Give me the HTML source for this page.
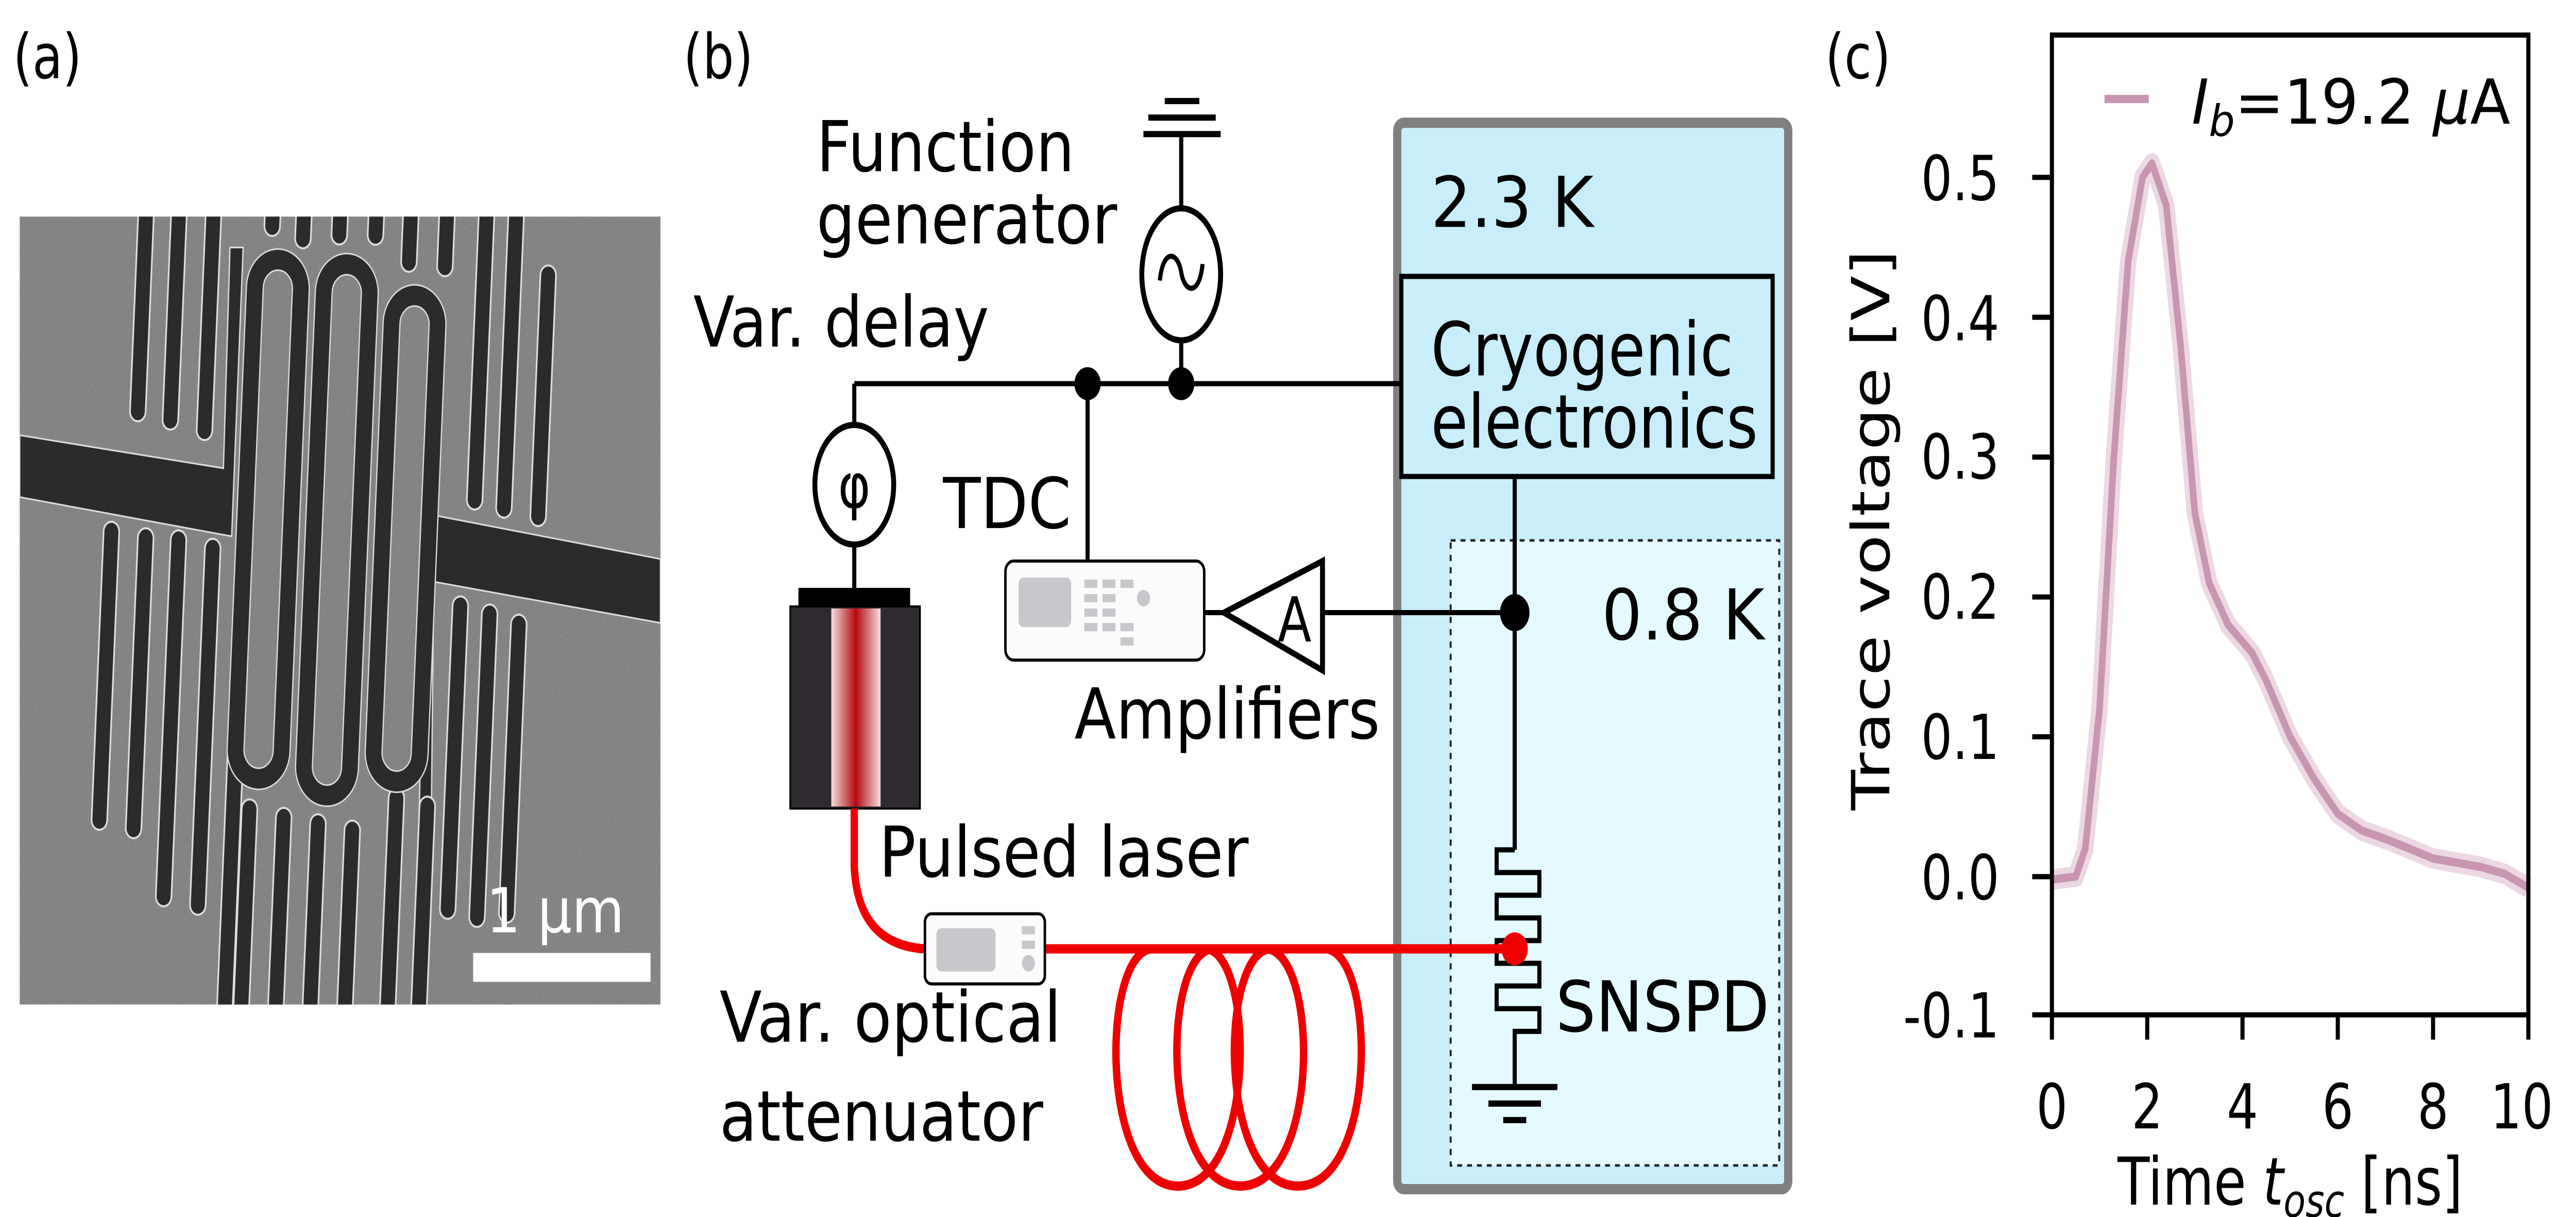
<!DOCTYPE html>
<html><head><meta charset="utf-8"><style>
html,body{margin:0;padding:0;background:#fff;width:100%;height:100%;overflow:hidden;}
svg{display:block;width:100vw;height:100vh;}
text{font-family:"DejaVu Sans","Liberation Sans",sans-serif;fill:#000;}
</style></head><body>
<svg viewBox="0 0 1568 590" preserveAspectRatio="none" xmlns="http://www.w3.org/2000/svg">
<defs>
<clipPath id="sem"><rect x="12" y="105" width="390" height="382"/></clipPath>
<linearGradient id="lg" x1="0" x2="1" y1="0" y2="0">
<stop offset="0" stop-color="#f4dede"/><stop offset="0.5" stop-color="#b30a10"/><stop offset="1" stop-color="#f4dede"/></linearGradient>
<filter id="grain" x="0" y="0" width="1" height="1"><feTurbulence type="fractalNoise" baseFrequency="0.9" numOctaves="2" result="n"/><feColorMatrix type="saturate" values="0"/><feComponentTransfer><feFuncA type="linear" slope="0.35"/></feComponentTransfer><feBlend in="SourceGraphic" mode="multiply"/></filter>
</defs>

<!-- (a) -->
<text x="8" y="38" font-size="30">(a)</text>
<g clip-path="url(#sem)">
<rect x="12" y="105" width="390" height="382" fill="#7c7c7c"/>
<rect x="12" y="105" width="390" height="382" fill="#8a8a8a" filter="url(#grain)"/>
<polygon points="12,211 136,227 140,120 148,120 141,260 12,241" fill="#2b2b2b" stroke="#ddd" stroke-width="0.8"/>
<polygon points="259,249 402,271 402,302 264,282 262,440 254,440" fill="#2b2b2b" stroke="#ddd" stroke-width="0.8"/>
<g transform="rotate(3 206 296)" stroke-linecap="round" fill="none">
<g stroke="#ddd" stroke-width="10.5">
<line x1="79" y1="95" x2="79" y2="206"/><line x1="99" y1="95" x2="99" y2="209"/><line x1="120" y1="95" x2="120" y2="213"/>
<line x1="156" y1="95" x2="156" y2="112"/><line x1="175" y1="95" x2="175" y2="117"/><line x1="197" y1="95" x2="197" y2="114"/><line x1="219" y1="95" x2="219" y2="113"/><line x1="240" y1="95" x2="240" y2="125"/><line x1="262" y1="95" x2="262" y2="126"/>
<line x1="286" y1="95" x2="286" y2="238"/><line x1="304" y1="95" x2="304" y2="241"/><line x1="325" y1="127" x2="325" y2="244"/>
<line x1="66" y1="265" x2="66" y2="405"/><line x1="87" y1="267" x2="87" y2="408"/><line x1="107" y1="267" x2="107" y2="440"/><line x1="128" y1="270" x2="128" y2="443"/><line x1="147" y1="275" x2="147" y2="500"/>
<line x1="157" y1="395" x2="157" y2="500"/><line x1="178" y1="398" x2="178" y2="500"/><line x1="199" y1="400" x2="199" y2="500"/><line x1="220" y1="402" x2="220" y2="500"/><line x1="246" y1="385" x2="246" y2="500"/><line x1="265" y1="388" x2="265" y2="500"/>
<line x1="280" y1="290" x2="280" y2="437"/><line x1="298" y1="293" x2="298" y2="440"/><line x1="316" y1="297" x2="316" y2="437"/>
</g>
<g stroke="#2b2b2b" stroke-width="8.5">
<line x1="79" y1="95" x2="79" y2="206"/><line x1="99" y1="95" x2="99" y2="209"/><line x1="120" y1="95" x2="120" y2="213"/>
<line x1="156" y1="95" x2="156" y2="112"/><line x1="175" y1="95" x2="175" y2="117"/><line x1="197" y1="95" x2="197" y2="114"/><line x1="219" y1="95" x2="219" y2="113"/><line x1="240" y1="95" x2="240" y2="125"/><line x1="262" y1="95" x2="262" y2="126"/>
<line x1="286" y1="95" x2="286" y2="238"/><line x1="304" y1="95" x2="304" y2="241"/><line x1="325" y1="127" x2="325" y2="244"/>
<line x1="66" y1="265" x2="66" y2="405"/><line x1="87" y1="267" x2="87" y2="408"/><line x1="107" y1="267" x2="107" y2="440"/><line x1="128" y1="270" x2="128" y2="443"/><line x1="147" y1="275" x2="147" y2="500"/>
<line x1="157" y1="395" x2="157" y2="500"/><line x1="178" y1="398" x2="178" y2="500"/><line x1="199" y1="400" x2="199" y2="500"/><line x1="220" y1="402" x2="220" y2="500"/><line x1="246" y1="385" x2="246" y2="500"/><line x1="265" y1="388" x2="265" y2="500"/>
<line x1="280" y1="290" x2="280" y2="437"/><line x1="298" y1="293" x2="298" y2="440"/><line x1="316" y1="297" x2="316" y2="437"/>
</g>
<g stroke="#ddd" stroke-width="11"><rect x="147" y="128" width="28" height="252" rx="14"/><rect x="189" y="128" width="28" height="258" rx="14"/><rect x="231" y="141" width="28" height="236" rx="14"/></g>
<g stroke="#2b2b2b" stroke-width="9.5"><rect x="147" y="128" width="28" height="252" rx="14"/><rect x="189" y="128" width="28" height="258" rx="14"/><rect x="231" y="141" width="28" height="236" rx="14"/></g>
</g>
<rect x="288" y="462" width="108" height="14" fill="#fff"/>
<text x="296" y="452" font-size="30" style="fill:#fff" textLength="84" lengthAdjust="spacingAndGlyphs">1 µm</text>
</g>

<!-- (b) -->
<text x="416" y="38" font-size="30">(b)</text>
<rect x="850.5" y="59.5" width="238" height="517" rx="4" fill="#c8eefb" stroke="#808080" stroke-width="5"/>
<rect x="883" y="262" width="200" height="303" fill="#e5fafe" stroke="#222" stroke-width="1.2" stroke-dasharray="3,3"/>
<text x="871" y="110" font-size="34" textLength="99" lengthAdjust="spacingAndGlyphs">2.3 K</text>
<rect x="853" y="134" width="226" height="97" fill="#c8eefb" stroke="#000" stroke-width="2.5"/>
<text x="871" y="182" font-size="36" textLength="184" lengthAdjust="spacingAndGlyphs">Cryogenic</text>
<text x="871" y="217" font-size="36" textLength="199" lengthAdjust="spacingAndGlyphs">electronics</text>
<text x="975" y="310" font-size="34" textLength="99" lengthAdjust="spacingAndGlyphs">0.8 K</text>

<text x="497" y="83" font-size="34" textLength="157" lengthAdjust="spacingAndGlyphs">Function</text>
<text x="497" y="118" font-size="34" textLength="183" lengthAdjust="spacingAndGlyphs">generator</text>
<text x="422" y="168" font-size="34" textLength="180" lengthAdjust="spacingAndGlyphs">Var. delay</text>
<text x="574" y="256" font-size="34" textLength="78" lengthAdjust="spacingAndGlyphs">TDC</text>
<text x="654" y="358" font-size="34" textLength="186" lengthAdjust="spacingAndGlyphs">Amplifiers</text>
<text x="535" y="425" font-size="34" textLength="225" lengthAdjust="spacingAndGlyphs">Pulsed laser</text>
<text x="438" y="505" font-size="34" textLength="208" lengthAdjust="spacingAndGlyphs">Var. optical</text>
<text x="438" y="553" font-size="34" textLength="197" lengthAdjust="spacingAndGlyphs">attenuator</text>
<text x="947" y="500" font-size="34" textLength="130" lengthAdjust="spacingAndGlyphs">SNSPD</text>

<g stroke="#000" stroke-width="2.5" fill="none">
<line x1="709" y1="49" x2="730" y2="49" stroke-width="3"/>
<line x1="699" y1="57" x2="740" y2="57" stroke-width="3"/>
<line x1="696" y1="65" x2="743" y2="65" stroke-width="3"/>
<line x1="719" y1="65" x2="719" y2="100"/>
<ellipse cx="719" cy="133" rx="24" ry="32" stroke-width="3"/>
<path d="M706,136 C708,120 717,122 719,132 C721,142 730,144 732,128" stroke-width="2.5"/>
<line x1="719" y1="165" x2="719" y2="186"/>
<line x1="520" y1="186" x2="853" y2="186"/>
<line x1="520" y1="186" x2="520" y2="206"/>
<ellipse cx="520" cy="235" rx="24" ry="29" stroke-width="3"/>
<line x1="520" y1="264" x2="520" y2="286"/>
<line x1="662" y1="186" x2="662" y2="272"/>
<line x1="922" y1="231" x2="922" y2="412"/>
<line x1="805" y1="297" x2="922" y2="297"/>
<line x1="733" y1="297" x2="745" y2="297"/>
<path d="M805,272 L745,297 L805,325 Z" stroke-width="3"/>
<path d="M922,412 L911,412 L911,423 L937,423 L937,434 L911,434 L911,445 L937,445 L937,456 L911,456 L911,467 L937,467 L937,478 L911,478 L911,489 L937,489 L937,500 L922,500 L922,527"/>
<line x1="896" y1="527" x2="948" y2="527" stroke-width="3"/>
<line x1="906" y1="535" x2="938" y2="535" stroke-width="3"/>
<line x1="915" y1="543" x2="929" y2="543" stroke-width="3"/>
</g>
<text x="788" y="311" font-size="30" text-anchor="middle">A</text>
<text x="520" y="246" font-size="30" text-anchor="middle">φ</text>
<circle cx="662" cy="186" r="8"/><circle cx="719" cy="186" r="8"/><circle cx="922" cy="297" r="9"/>

<rect x="612" y="272" width="121" height="48" rx="5" fill="#fbfbfb" stroke="#000" stroke-width="1.5"/>
<rect x="620" y="280" width="32" height="24" rx="3" fill="#c8c8cc"/>
<g fill="#c8c8cc"><rect x="660" y="281" width="8" height="4"/><rect x="671" y="281" width="8" height="4"/><rect x="682" y="281" width="8" height="4"/>
<rect x="660" y="288" width="8" height="4"/><rect x="671" y="288" width="8" height="4"/><rect x="660" y="295" width="8" height="4"/><rect x="671" y="295" width="8" height="4"/>
<rect x="660" y="302" width="8" height="4"/><rect x="671" y="302" width="8" height="4"/><rect x="682" y="302" width="8" height="4"/><rect x="682" y="309" width="8" height="4"/><circle cx="696" cy="290" r="4"/></g>

<rect x="486" y="285" width="68" height="9" fill="#000"/>
<rect x="481" y="294" width="79" height="98" fill="#2e2a30" stroke="#000" stroke-width="1"/>
<rect x="506" y="295" width="30" height="96" fill="url(#lg)"/>
<g stroke="#ee0000" stroke-width="4.5" fill="none">
<path d="M520,392 L520,420 Q522,458 563,460"/>
<line x1="636" y1="460" x2="922" y2="460"/>
<path d="M700,460 C670,465 670,575 717,575 C764,575 764,465 735,460"/>
<path d="M737,460 C707,465 707,575 755,575 C803,575 803,465 772,460"/>
<path d="M772,460 C742,465 742,575 790,575 C838,575 838,465 808,460"/>
</g>
<circle cx="922" cy="460" r="8" fill="#ee0000"/>
<rect x="563" y="443" width="73" height="34" rx="4" fill="#fbfbfb" stroke="#000" stroke-width="1.5"/>
<rect x="570" y="450" width="36" height="21" rx="3" fill="#c8c8cc"/>
<rect x="622" y="449" width="8" height="4" fill="#c8c8cc"/><rect x="622" y="456" width="8" height="4" fill="#c8c8cc"/><circle cx="626" cy="467" r="4" fill="#c8c8cc"/>

<!-- (c) -->
<text x="1111" y="38" font-size="30">(c)</text>
<g stroke="#000" stroke-width="2.5">
<line x1="1237" y1="86" x2="1249" y2="86"/><line x1="1237" y1="153.8" x2="1249" y2="153.8"/><line x1="1237" y1="221.6" x2="1249" y2="221.6"/><line x1="1237" y1="289.4" x2="1249" y2="289.4"/><line x1="1237" y1="357.2" x2="1249" y2="357.2"/><line x1="1237" y1="425" x2="1249" y2="425"/><line x1="1237" y1="492" x2="1249" y2="492"/>
<line x1="1249" y1="492" x2="1249" y2="504"/><line x1="1307" y1="492" x2="1307" y2="504"/><line x1="1365" y1="492" x2="1365" y2="504"/><line x1="1423" y1="492" x2="1423" y2="504"/><line x1="1481" y1="492" x2="1481" y2="504"/><line x1="1539" y1="492" x2="1539" y2="504"/>
</g>
<g font-size="30" text-anchor="end">
<text x="1217" y="97">0.5</text><text x="1217" y="165">0.4</text><text x="1217" y="232">0.3</text><text x="1217" y="300">0.2</text><text x="1217" y="368">0.1</text><text x="1217" y="436">0.0</text><text x="1217" y="503">-0.1</text>
</g>
<g font-size="30" text-anchor="middle">
<text x="1249" y="547">0</text><text x="1307" y="547">2</text><text x="1365" y="547">4</text><text x="1423" y="547">6</text><text x="1481" y="547">8</text><text x="1535" y="547">10</text>
</g>
<text transform="translate(1150 257) rotate(-90)" font-size="32" text-anchor="middle">Trace voltage [V]</text>
<text x="1394" y="584" font-size="32" text-anchor="middle">Time <tspan font-style="italic">t</tspan><tspan font-style="italic" font-size="22" dy="6">osc</tspan><tspan dy="-6"> [ns]</tspan></text>
<polyline fill="none" stroke="#ecd8e3" stroke-width="10" stroke-linejoin="round" points="1249,426.4 1263.5,425 1269.3,411.4 1278,343.6 1286.7,221.6 1295.4,126.7 1304.1,86 1309.9,79.2 1318.6,99.6 1327.3,167.4 1336,248.7 1344.7,282.6 1356.3,303 1370.8,316.5 1379.5,330.1 1394,357.2 1408.5,377.5 1423,394.5 1437.5,402.6 1452,406.7 1466.5,411.4 1481,416.2 1510,420.3 1524.5,423.6 1539,430.4"/>
<polyline fill="none" stroke="#c896b0" stroke-width="4" stroke-linejoin="round" points="1249,426.4 1263.5,425 1269.3,411.4 1278,343.6 1286.7,221.6 1295.4,126.7 1304.1,86 1309.9,79.2 1318.6,99.6 1327.3,167.4 1336,248.7 1344.7,282.6 1356.3,303 1370.8,316.5 1379.5,330.1 1394,357.2 1408.5,377.5 1423,394.5 1437.5,402.6 1452,406.7 1466.5,411.4 1481,416.2 1510,420.3 1524.5,423.6 1539,430.4"/>
<rect x="1249" y="17" width="290" height="475" fill="none" stroke="#000" stroke-width="2.5"/>
<line x1="1281" y1="48" x2="1308" y2="48" stroke="#c896b0" stroke-width="4"/>
<text x="1334" y="60" font-size="30" textLength="194" lengthAdjust="spacingAndGlyphs"><tspan font-style="italic">I</tspan><tspan font-style="italic" font-size="21" dy="6">b</tspan><tspan dy="-6">=19.2 </tspan><tspan font-style="italic">μ</tspan>A</text>
</svg>
</body></html>
